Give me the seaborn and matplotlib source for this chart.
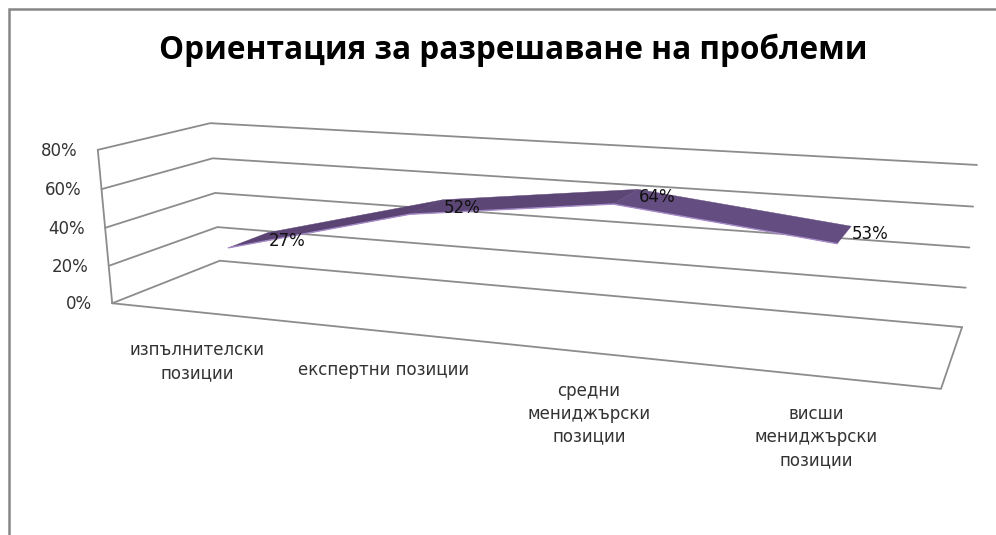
import numpy as np
import pandas as pd
import matplotlib
matplotlib.use("Agg")
import matplotlib.pyplot as plt
import seaborn as sns

# ---- data ----
title = "Ориентация за разрешаване на проблеми"
categories = ["изпълнителски\nпозиции", "експертни позиции",
              "средни\nмениджърски\nпозиции", "висши\nмениджърски\nпозиции"]
values = [27, 52, 64, 53]
value_ticks = [0, 20, 40, 60, 80]

# ---- 3D view: known corners of the chart box on the page -> camera matrix ----
W, H = 996, 535
n = len(categories)
vmax = value_ticks[-1]
box = [((0, 0, 0), (112, 303)), ((0, 80, 0), (98, 150)),
       ((0, 0, 1), (220, 261)), ((0, 80, 1), (210, 123)),
       ((n, 0, 1), (962, 327)), ((n, 80, 1), (977, 165)),
       ((n, 0, 0), (941, 389))]
A, b = [], []
for (x, v, z), (u, w) in box:
    P = [x, v / vmax, z, 1]
    A.append(P + [0, 0, 0, 0] + [-u * p for p in P[:3]])
    A.append([0, 0, 0, 0] + P + [-w * p for p in P[:3]])
    b += [u, w]
m = np.linalg.lstsq(np.array(A, float), np.array(b, float), rcond=None)[0]
M = np.append(m, 1).reshape(3, 4)


def project(x, v, z):
    h = M @ np.array([x, v / vmax, z, 1.0])
    return h[0] / h[2], h[1] / h[2]


sns.set_theme(style="white")
plt.rcParams["font.family"] = ["DejaVu Sans"]
fig = plt.figure(figsize=(W / 100, H / 100), dpi=100, facecolor="white")
ax = fig.add_axes([0, 0, 1, 1])
ax.set_xlim(0, W)
ax.set_ylim(H, 0)
ax.axis("off")

# outer chart frame
ax.plot([9, 9, W], [H, 9, 9], color="#868686", lw=1.8, solid_joinstyle="miter")

# grid walls
rows = []
for t in value_ticks:
    for x, z in [(0, 0), (0, 1), (n, 1)]:
        px, py = project(x, t, z)
        rows.append(dict(tick=t, px=px, py=py))
for x, z in [(0, 0), (n, 0), (n, 1)]:
    px, py = project(x, 0, z)
    rows.append(dict(tick=-1, px=px, py=py))
grid = pd.DataFrame(rows)
sns.lineplot(data=grid, x="px", y="py", units="tick", estimator=None, sort=False,
             color="#8c8c8c", lw=1.3, ax=ax, legend=False)
wall = pd.DataFrame([project(0, 0, 0), project(0, vmax, 0)], columns=["px", "py"])
sns.lineplot(data=wall, x="px", y="py", estimator=None, sort=False,
             color="#8c8c8c", lw=1.3, ax=ax, legend=False)

# 3D ribbon
z_front, z_back = 0.30, 0.69
xs = np.arange(n) + 0.5
front = [project(x, v, z_front) for x, v in zip(xs, values)]
back = [project(x, v, z_back) for x, v in zip(xs, values)]
shades = ["#5b4474", "#5c4676", "#644d80"]
for i in range(n - 1):
    poly = [front[i], front[i + 1], back[i + 1], back[i]]
    ax.fill(*zip(*poly), color=shades[i], lw=0.3, zorder=3)
edge = pd.DataFrame(front, columns=["px", "py"])
sns.lineplot(data=edge, x="px", y="py", estimator=None, sort=False,
             color="#a68ac8", lw=1.0, ax=ax, legend=False, zorder=4)

# data labels
for (px, py), v in zip(back, values):
    ax.text(px + 19, py + 8, f"{v}%", ha="center", va="center", fontsize=12,
            color="#111111", zorder=5)

# value axis labels
for t in value_ticks:
    px, py = project(0, t, 0)
    ax.text(px - 20, py + 1, f"{t}%", ha="right", va="center", fontsize=12, color="#333333")

# category labels
for x, lab in zip(xs, categories):
    px, py = project(x, 0, 0)
    ax.text(px - 2, py + 29, lab, ha="center", va="top", fontsize=12, color="#333333", linespacing=1.35)

ax.text(513, 50, title, ha="center", va="center", fontsize=22.7, fontweight="bold",
        family="Open Sans", color="black")

fig.savefig("out.png", dpi=100)
